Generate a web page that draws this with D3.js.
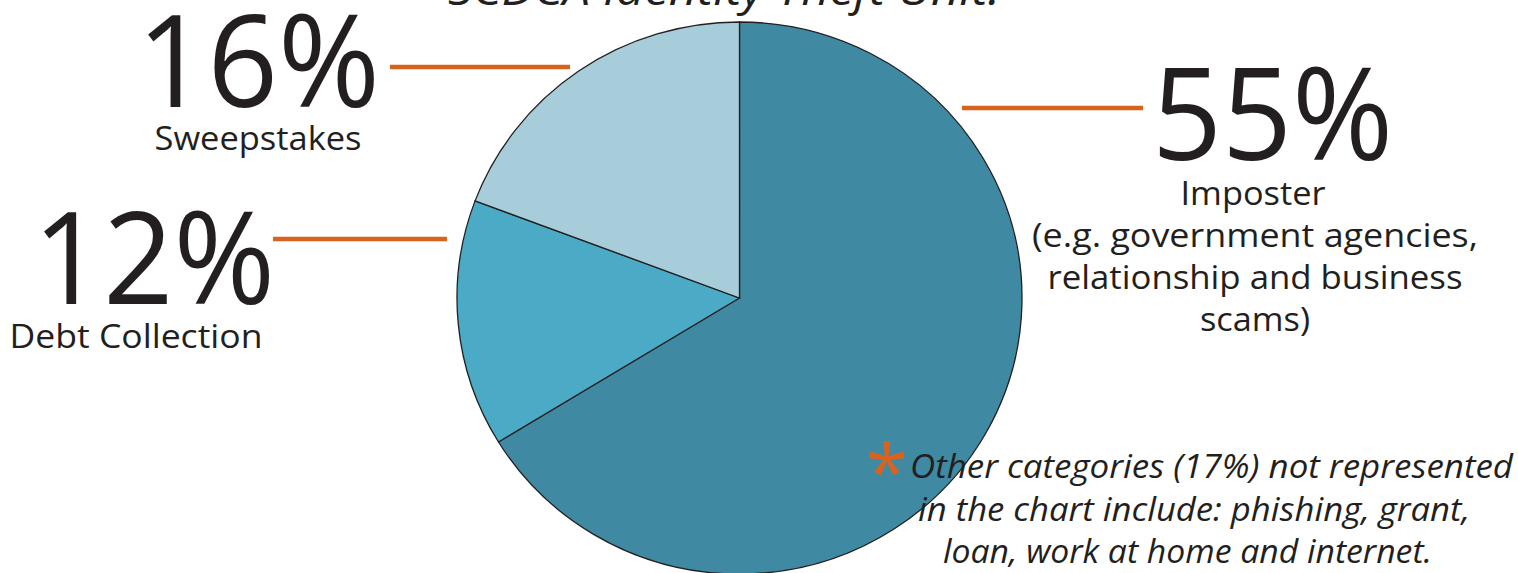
<!DOCTYPE html>
<meta charset="utf-8">
<head>
    <title>SCDCA Identity Theft Unit</title>
    <style>
        body { margin: 0; background: #fff; }
        svg { display: block; }
        .big { font-family: "Open Sans", sans-serif; font-weight: 400; fill: #231F20; }
        .lbl { font-family: "Open Sans", sans-serif; fill: #231F20; }
        .note { font-family: "Open Sans", sans-serif; font-style: italic; font-weight: 400; fill: #231F20; }
        .leader { stroke: #D9621E; stroke-width: 4.5px; }
    </style>
</head>
<body>
<svg width="1518" height="573"></svg>
<script src="https://d3js.org/d3.v7.min.js"></script>
<script>
    var categories = ["Imposter", "Debt Collection", "Sweepstakes"];
    var values = [55, 12, 16];
    var percentLabels = ["55%", "12%", "16%"];
    var colors = ["#3F8AA2", "#4BAAC5", "#A7CDDB"];

    var svg = d3.select("svg"),
        cx = 739.5, cy = 298, r = 282.5;

    var pie = d3.pie().sort(null).value(function(d) { return d; });
    var arc = d3.arc().innerRadius(0).outerRadius(r);

    var g = svg.append("g")
        .attr("transform", "translate(" + cx + "," + cy + ") scale(1,0.977)");

    g.selectAll("path")
        .data(pie(values))
        .enter().append("path")
        .attr("d", arc)
        .attr("fill", function(d, i) { return colors[i]; })
        .attr("stroke", "#231F20")
        .attr("stroke-width", 1.3)
        .attr("vector-effect", "non-scaling-stroke");

    // title (cut off at top)
    svg.append("text").attr("class", "note")
        .attr("x", 724).attr("y", 5)
        .attr("text-anchor", "middle")
        .style("font-size", "44px")
        .attr("textLength", 552).attr("lengthAdjust", "spacingAndGlyphs")
        .text("SCDCA Identity Theft Unit:");

    // leader lines
    var leaders = [[962, 1143, 108], [273, 447, 239], [390, 570, 67]];
    svg.selectAll(".leader")
        .data(leaders)
        .enter().append("line")
        .attr("class", "leader")
        .attr("x1", function(d) { return d[0]; })
        .attr("x2", function(d) { return d[1]; })
        .attr("y1", function(d) { return d[2]; })
        .attr("y2", function(d) { return d[2]; });

    // big percentages
    var bigPos = [[1152, 160, 241], [33, 304, 242], [137, 107, 243]];
    svg.selectAll(".big")
        .data(percentLabels)
        .enter().append("text")
        .attr("class", "big")
        .attr("x", function(d, i) { return bigPos[i][0]; })
        .attr("y", function(d, i) { return bigPos[i][1]; })
        .style("font-size", "128px")
        .attr("textLength", function(d, i) { return bigPos[i][2]; })
        .attr("lengthAdjust", "spacingAndGlyphs")
        .text(function(d) { return d; });

    // category labels
    var lblPos = [[1253, 205, 145], [136, 348, 253], [258, 150, 207]];
    svg.selectAll(".lbl.cat")
        .data(categories)
        .enter().append("text")
        .attr("class", "lbl cat")
        .attr("x", function(d, i) { return lblPos[i][0]; })
        .attr("y", function(d, i) { return lblPos[i][1]; })
        .attr("text-anchor", "middle")
        .style("font-size", "33px")
        .attr("textLength", function(d, i) { return lblPos[i][2]; })
        .attr("lengthAdjust", "spacingAndGlyphs")
        .text(function(d) { return d; });

    var imposterLines = [["(e.g. government agencies,", 247, 446], ["relationship and business", 289, 415], ["scams)", 331, 110]];
    svg.selectAll(".sub")
        .data(imposterLines)
        .enter().append("text")
        .attr("class", "lbl sub")
        .attr("x", 1255)
        .attr("y", function(d) { return d[1]; })
        .attr("text-anchor", "middle")
        .style("font-size", "33px")
        .attr("textLength", function(d) { return d[2]; })
        .attr("lengthAdjust", "spacingAndGlyphs")
        .text(function(d) { return d[0]; });

    // footnote
    svg.append("text")
        .attr("x", 887).attr("y", 500)
        .attr("text-anchor", "middle")
        .attr("fill", "#D9621E")
        .style("font-family", "Open Sans, sans-serif")
        .style("font-size", "76px")
        .text("*");

    var noteLines = [["Other categories (17%) not represented", 910, 478, 603],
                     ["in the chart include: phishing, grant,", 918, 521, 552],
                     ["loan, work at home and internet.", 943, 563, 489]];
    svg.selectAll(".noteLine")
        .data(noteLines)
        .enter().append("text")
        .attr("class", "note noteLine")
        .attr("x", function(d) { return d[1]; })
        .attr("y", function(d) { return d[2]; })
        .style("font-size", "33px")
        .attr("textLength", function(d) { return d[3]; })
        .attr("lengthAdjust", "spacingAndGlyphs")
        .text(function(d) { return d[0]; });
</script>
</body>
